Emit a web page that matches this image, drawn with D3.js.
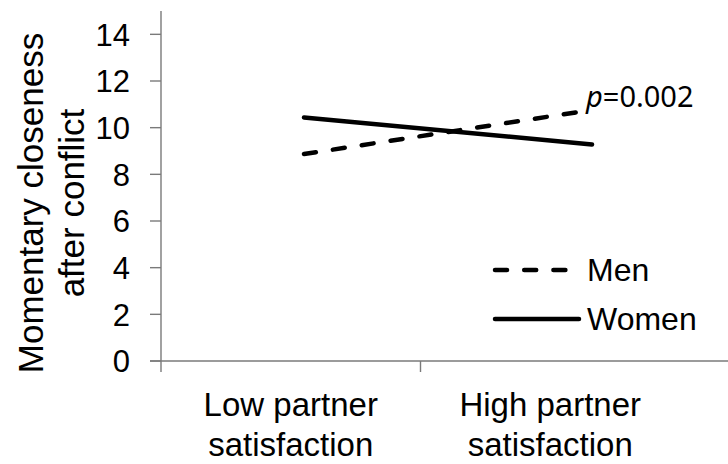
<!DOCTYPE html>
<html>
<head>
<meta charset="utf-8">
<script src="https://cdn.jsdelivr.net/npm/d3@7"></script>
<style>
  body { margin: 0; background: #fff; }
  text { font-family: "Liberation Sans", Arial, sans-serif; fill: #000; }
</style>
</head>
<body>
<svg id="chart" width="728" height="464"></svg>
<script>
const categories = ["Low partner satisfaction", "High partner satisfaction"];
const categoryLines = [["Low partner", "satisfaction"], ["High partner", "satisfaction"]];
const menValues = [8.87, 10.76];
const womenValues = [10.44, 9.28];
const yTicks = [0, 2, 4, 6, 8, 10, 12, 14];
const yTitle = ["Momentary closeness", "after conflict"];
const pLabel = "=0.002";

function drawChart() {
  const svg = d3.select("#chart");

  const axisLeftX = 161;
  const axisBottomY = 361;

  const y = d3.scaleLinear()
    .domain([0, 15])
    .range([axisBottomY, 11]);

  // category bands for the axis labels / ticks
  const xBand = d3.scaleBand()
    .domain(categories)
    .range([axisLeftX, 680]);

  // the plotted points sit inside each band, not at its centre
  const xPoint = d3.scalePoint()
    .domain(categories)
    .range([304, 592]);

  const axisColor = "#7a7a7a";

  // y axis
  svg.append("line")
    .attr("x1", axisLeftX).attr("x2", axisLeftX)
    .attr("y1", y.range()[1]).attr("y2", axisBottomY + 11)
    .attr("stroke", axisColor).attr("stroke-width", 1.4);

  svg.selectAll(".ytick")
    .data(yTicks)
    .join("line")
    .attr("class", "ytick")
    .attr("x1", axisLeftX - 11).attr("x2", axisLeftX)
    .attr("y1", d => y(d)).attr("y2", d => y(d))
    .attr("stroke", axisColor).attr("stroke-width", 1.4);

  svg.selectAll(".ylabel")
    .data(yTicks)
    .join("text")
    .attr("class", "ylabel")
    .attr("x", 130)
    .attr("y", d => y(d))
    .attr("dy", "0.37em")
    .attr("text-anchor", "end")
    .attr("font-size", "31px")
    .text(d => d);

  // x axis
  svg.append("line")
    .attr("x1", axisLeftX - 11).attr("x2", 728)
    .attr("y1", axisBottomY).attr("y2", axisBottomY)
    .attr("stroke", axisColor).attr("stroke-width", 1.4);

  svg.append("line")
    .attr("x1", xBand(categories[1])).attr("x2", xBand(categories[1]))
    .attr("y1", axisBottomY).attr("y2", axisBottomY + 11)
    .attr("stroke", axisColor).attr("stroke-width", 1.4);

  const catText = svg.selectAll(".xlabel")
    .data(categories)
    .join("text")
    .attr("class", "xlabel")
    .attr("text-anchor", "middle")
    .attr("font-size", "33px");

  catText.selectAll("tspan")
    .data((d, i) => categoryLines[i].map(t => ({ cat: d, t })))
    .join("tspan")
    .attr("x", d => xBand(d.cat) + xBand.bandwidth() / 2)
    .attr("y", (d, i) => 416 + i * 40)
    .text(d => d.t);

  // y title
  const yt = svg.append("text")
    .attr("transform", "translate(0, 203) rotate(-90)")
    .attr("text-anchor", "middle")
    .attr("font-size", "35px");

  yt.selectAll("tspan")
    .data(yTitle)
    .join("tspan")
    .attr("x", 0)
    .attr("y", (d, i) => 43 + i * 41)
    .text(d => d);

  const line = d3.line()
    .x((d, i) => xPoint(categories[i]))
    .y(d => y(d));

  svg.append("path")
    .datum(womenValues)
    .attr("d", line)
    .attr("fill", "none")
    .attr("stroke", "#000")
    .attr("stroke-width", 4.5)
    .attr("stroke-linecap", "round");

  svg.append("path")
    .datum(menValues)
    .attr("d", line)
    .attr("fill", "none")
    .attr("stroke", "#000")
    .attr("stroke-width", 4.5)
    .attr("stroke-linecap", "round")
    .attr("stroke-dasharray", "12,17.2");

  // p value label
  const p = svg.append("text")
    .attr("x", 586)
    .attr("y", 107)
    .style("font-family", "'Noto Sans', sans-serif")
    .attr("font-size", "29px");
  p.append("tspan").attr("font-style", "italic").text("p");
  p.append("tspan").text(pLabel);

  // legend
  const legend = svg.append("g");
  const legendItems = [
    { name: "Men", dash: "12,17.2", x2: 567, y: 270 },
    { name: "Women", dash: null, x2: 579, y: 319 }
  ];

  legend.selectAll("line")
    .data(legendItems)
    .join("line")
    .attr("x1", 495).attr("x2", d => d.x2)
    .attr("y1", d => d.y).attr("y2", d => d.y)
    .attr("stroke", "#000")
    .attr("stroke-width", 4.5)
    .attr("stroke-linecap", "round")
    .attr("stroke-dasharray", d => d.dash);

  legend.selectAll("text")
    .data(legendItems)
    .join("text")
    .attr("x", 587)
    .attr("y", d => d.y + 11)
    .attr("font-size", "32px")
    .text(d => d.name);
}

drawChart();
</script>
</body>
</html>
